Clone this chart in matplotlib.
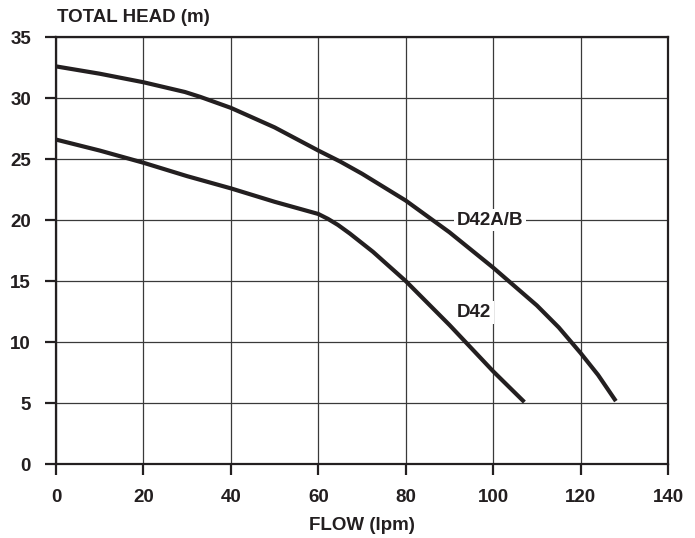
import matplotlib.pyplot as plt
import numpy as np

plt.rcParams['font.family'] = ['Liberation Sans', 'DejaVu Sans']
plt.rcParams['font.weight'] = 'bold'

# D42A/B curve (flow lpm, head m)
flow_ab = [0, 10, 20, 29.5, 33, 40, 50, 60, 65, 70, 80, 90, 100, 110, 115, 120, 124, 127.8]
head_ab = [32.6, 32.0, 31.3, 30.5, 30.1, 29.2, 27.6, 25.7, 24.8, 23.8, 21.6, 19.0, 16.1, 13.0, 11.2, 9.1, 7.3, 5.3]

# D42 curve
flow_d42 = [0, 10, 20, 30, 40, 50, 60, 62.2, 64.5, 67.2, 72.5, 80, 90, 100, 106.8]
head_d42 = [26.6, 25.7, 24.7, 23.6, 22.6, 21.5, 20.5, 20.1, 19.6, 18.9, 17.4, 15.0, 11.4, 7.6, 5.2]

xticks = [0, 20, 40, 60, 80, 100, 120, 140]
yticks = [0, 5, 10, 15, 20, 25, 30, 35]

ink = '#231f20'
fs = 13.5

fig = plt.figure(figsize=(6.95, 5.38), dpi=100)
ax = fig.add_axes([0.0806, 0.1375, 0.8806, 0.7935])

ax.plot(flow_ab, head_ab, color=ink, lw=3.0, solid_joinstyle='round', zorder=3)
ax.plot(flow_d42, head_d42, color=ink, lw=3.0, solid_joinstyle='round', zorder=3)

ax.set_xlim(0, 140)
ax.set_ylim(0, 35)
ax.set_xticks(xticks)
ax.set_yticks(yticks)
ax.grid(True, color='#3a3a3a', lw=0.9)
ax.set_axisbelow(True)

for s in ax.spines.values():
    s.set_linewidth(1.6)
    s.set_color(ink)

ax.tick_params(direction='out', length=8, width=1.6, color=ink,
               labelsize=fs, pad=10)
for lbl in ax.get_xticklabels() + ax.get_yticklabels():
    lbl.set_fontweight('bold')
    lbl.set_color(ink)

ax.text(99.3, 20.0, 'D42A/B', ha='center', va='center', fontsize=fs,
        fontweight='bold', color=ink, zorder=4,
        bbox=dict(facecolor='white', edgecolor='none', pad=2))
ax.text(95.6, 12.4, 'D42', ha='center', va='center', fontsize=fs,
        fontweight='bold', color=ink, zorder=4,
        bbox=dict(facecolor='white', edgecolor='none', pad=2))

fig.text(0.082, 0.967, 'TOTAL HEAD (m)', ha='left', va='center', fontsize=fs,
         fontweight='bold', color=ink)
ax.set_xlabel('FLOW (lpm)', fontsize=fs, fontweight='bold', color=ink, labelpad=8)

fig.savefig('out.png', dpi=100)
